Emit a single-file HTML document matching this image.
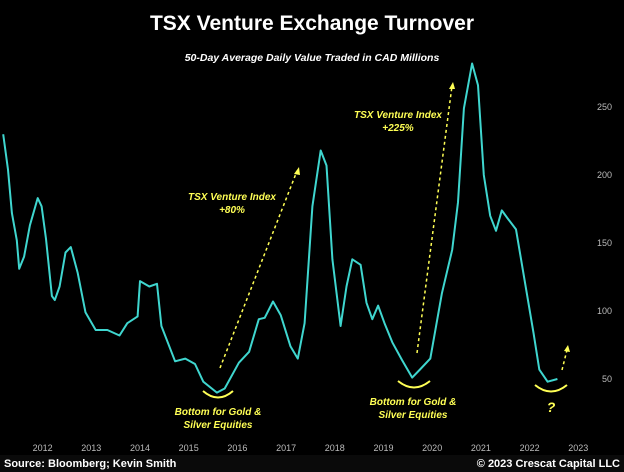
<!DOCTYPE html>
<html><head><meta charset="utf-8"><style>
body{margin:0;background:#000;}
svg{display:block;font-family:"Liberation Sans",sans-serif;}
</style></head><body>
<svg id="c" width="624" height="472" viewBox="0 0 624 472">
<rect width="624" height="472" fill="#000"/>
<text x="312" y="30" text-anchor="middle" fill="#fff" font-size="21" font-weight="bold">TSX Venture Exchange Turnover</text>
<text x="312" y="61" text-anchor="middle" fill="#fff" font-size="10.5" font-weight="bold" font-style="italic">50-Day Average Daily Value Traded in CAD Millions</text>
<g id="yt"></g><g id="xt"></g><g id="ln"></g>
<g fill="none" stroke="#ffff55" stroke-width="1.5">
<line x1="220" y1="368" x2="297" y2="171" stroke-dasharray="3,3"/>
<polygon points="299,167 294,174 300,175" fill="#ffff55" stroke="none"/>
<line x1="417" y1="353" x2="452" y2="86" stroke-dasharray="3,3"/>
<polygon points="453,82 449,89 455,89" fill="#ffff55" stroke="none"/>
<line x1="562" y1="370" x2="567" y2="350" stroke-dasharray="3,3"/>
<polygon points="568,345 564,351 570,352" fill="#ffff55" stroke="none"/>
<path d="M203,391 Q218,404 233,391" stroke-width="2"/>
<path d="M398,381 Q414,394 430,381" stroke-width="2"/>
<path d="M535,385 Q551,398 567,385" stroke-width="2"/>
</g>
<g fill="#ffff55" font-size="10" font-weight="bold" font-style="italic" text-anchor="middle">
<text x="232" y="200">TSX Venture Index</text>
<text x="232" y="213">+80%</text>
<text x="398" y="118">TSX Venture Index</text>
<text x="398" y="131">+225%</text>
<text x="218" y="415">Bottom for Gold &amp;</text>
<text x="218" y="428">Silver Equities</text>
<text x="413" y="405">Bottom for Gold &amp;</text>
<text x="413" y="418">Silver Equities</text>
<text x="551" y="412" font-size="14">?</text>
</g>
<rect x="0" y="455" width="624" height="17" fill="#0a0a0a"/>
<text x="4" y="467" fill="#fff" font-size="11" font-weight="bold">Source: Bloomberg; Kevin Smith</text>
<text x="620" y="467" text-anchor="end" fill="#fff" font-size="11" font-weight="bold">© 2023 Crescat Capital LLC</text>
</svg>
<script>
const years=[2012,2013,2014,2015,2016,2017,2018,2019,2020,2021,2022,2023];
const yTicks=[50,100,150,200,250];
const dates=[2011.19,2011.29,2011.37,2011.47,2011.52,2011.62,2011.74,2011.90,2011.98,2012.07,2012.19,2012.25,2012.35,2012.47,2012.58,2012.72,2012.88,2013.09,2013.33,2013.58,2013.74,2013.95,2014.0,2014.19,2014.35,2014.44,2014.72,2014.93,2015.13,2015.30,2015.58,2015.74,2016.03,2016.24,2016.44,2016.56,2016.73,2016.89,2017.09,2017.24,2017.38,2017.54,2017.71,2017.83,2017.95,2018.12,2018.24,2018.36,2018.53,2018.65,2018.77,2018.89,2019.02,2019.18,2019.38,2019.59,2019.75,2019.96,2020.2,2020.41,2020.53,2020.65,2020.82,2020.94,2021.06,2021.19,2021.31,2021.43,2021.55,2021.72,2021.88,2022.08,2022.2,2022.37,2022.57];
const values=[230,204,172,152,131,140,163,183,177,153,111,108,118,143,147,128,99,86,86,82,91,96,122,118,120,89,63,65,61,48,40,43,62,70,94,95,107,97,74,65,91,177,218,207,138,89,118,138,134,106,94,104,91,77,64,51,57,65,113,145,180,249,282,266,200,170,159,174,168,160,126,84,57,48,50];
const X=d=>42.6+(d-2012)*48.7;
const Y=v=>379-(v-50)*1.36;
const NS="http://www.w3.org/2000/svg";
const yt=document.getElementById('yt'),xt=document.getElementById('xt'),ln=document.getElementById('ln');
yTicks.forEach(v=>{const t=document.createElementNS(NS,'text');t.setAttribute('x',612);t.setAttribute('y',Y(v)+3);t.setAttribute('text-anchor','end');t.setAttribute('fill','#bbb');t.setAttribute('font-size','9');t.textContent=v;


yt.appendChild(t);});
years.forEach(y=>{const t=document.createElementNS(NS,'text');t.setAttribute('x',X(y));t.setAttribute('y',451);t.setAttribute('text-anchor','middle');t.setAttribute('fill','#bbb');t.setAttribute('font-size','9');t.textContent=y;


xt.appendChild(t);});
const p=document.createElementNS(NS,'polyline');
p.setAttribute('points',dates.map((d,i)=>X(d).toFixed(1)+','+Y(values[i]).toFixed(1)).join(' '));
p.setAttribute('fill','none');p.setAttribute('stroke','#3fd6cf');p.setAttribute('stroke-width','2');p.setAttribute('stroke-linejoin','round');


ln.appendChild(p);
</script>
</body></html>
